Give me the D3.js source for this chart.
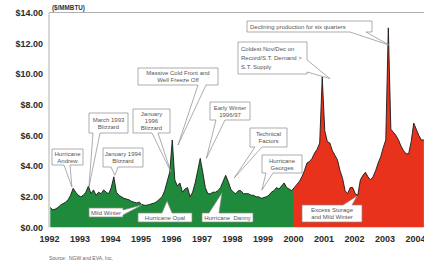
<!DOCTYPE html>
<html><head><meta charset="utf-8">
<script src="https://cdn.jsdelivr.net/npm/d3@7/dist/d3.min.js"></script>
<style>
html,body{margin:0;padding:0;background:#fff;}
svg{display:block;font-family:Arial,"Liberation Sans",Helvetica,sans-serif;}
</style></head>
<body>
<svg id="c" width="424" height="263"></svg>
<script>
// ---- data (monthly price, $/MMBtu) ----
const startYear = 1992;
const prices = [
  // 1992
  1.3, 1.15, 1.2, 1.3, 1.45, 1.55, 1.65, 1.8, 2.1, 2.55, 2.3, 2.1,
  // 1993
  2.0, 2.1, 2.3, 2.7, 2.2, 2.45, 2.1, 2.3, 2.2, 2.45, 2.3, 2.2,
  // 1994
  2.6, 3.3, 2.3, 2.1, 2.0, 1.9, 1.85, 1.8, 1.7, 1.65, 1.6, 1.65,
  // 1995
  1.5, 1.45, 1.45, 1.5, 1.55, 1.6, 1.7, 1.85, 2.0, 2.4, 3.0, 3.6,
  // 1996
  5.7, 3.1, 2.7, 2.9, 2.3, 2.5, 2.6, 2.0, 2.3, 2.9, 3.7, 4.5,
  // 1997
  3.6, 2.6, 2.2, 2.2, 2.3, 2.3, 2.4, 2.6, 3.0, 3.4, 3.0, 2.5,
  // 1998
  2.3, 2.2, 2.4, 2.4, 2.2, 2.2, 2.2, 2.1, 2.1, 2.0, 2.0, 1.9,
  // 1999
  1.95, 2.0, 2.1, 2.3, 2.4, 2.6, 2.5, 2.7, 2.9, 2.6, 2.5, 2.4,
  // 2000
  2.6, 2.8, 3.0, 3.3, 3.7, 4.2, 4.3, 4.5, 4.85, 5.1, 5.5, 9.8,
  // 2001
  6.3, 5.6, 5.5, 5.0, 4.7, 4.4, 3.7, 3.2, 2.4, 2.2, 2.6, 2.6,
  // 2002
  2.2, 2.1, 3.1, 3.4, 3.6, 3.3, 3.1, 3.3, 3.7, 4.2, 4.6, 5.2,
  // 2003
  5.7, 13.0, 6.4, 6.2, 6.0, 5.7, 5.3, 5.0, 4.8, 4.8, 5.6, 6.8,
  // 2004
  6.4, 6.0, 5.7, 5.7
];
const years = [1992,1993,1994,1995,1996,1997,1998,1999,2000,2001,2002,2003,2004];
const yTicks = [0,2,4,6,8,10,12,14];
const splitYear = 2000; // green before, red after

// annotations: text lines, tip given in data units (year, price)
const notes = [
  {lines:["Hurricane","Andrew"], tip:[1992.75,2.64]},
  {lines:["March 1993","Blizzard"], tip:[1993.31,2.64]},
  {lines:["January 1994","Blizzard"], tip:[1994.16,3.4]},
  {lines:["January","1996","Blizzard"], tip:[1996.0,3.6]},
  {lines:["Massive Cold Front and","Well Freeze Off"], tip:[1996.23,5.37]},
  {lines:["Early Winter","1996/97"], tip:[1997.16,4.5]},
  {lines:["Technical","Factors"], tip:[1998.07,3.22]},
  {lines:["Hurricane","Georges"], tip:[1998.98,2.44]},
  {lines:["Coldest Nov/Dec on","Record/S.T. Demand >","S.T. Supply"], tip:[2001.21,9.7]},
  {lines:["Declining production for six quarters"], tip:[2003.15,11.88]},
  {lines:["Mild Winter"], tip:[1995.05,1.47]},
  {lines:["Hurricane Opal"], tip:[1995.87,1.73]},
  {lines:["Hurricane  Danny"], tip:[1997.67,2.25]},
  {lines:["Excess Storage","and Mild Winter"], tip:[2002.1,2.05]}
];
// layout of the callout boxes (pixels): x, y, w, h, tail side, tail base, text align
const boxLayout = [
  [52,149,31,16,"bottom",[64,70],"middle"],
  [89,113,39,20,"bottom",[93,100],"middle"],
  [103,148,40,19,"bottom",[111,118],"middle"],
  [133,109,37,24,"bottom",[152,158],"middle"],
  [138,68,80,17,"bottom",[198,206],"middle"],
  [210,102,40,18,"bottom",[216,225],"middle"],
  [250,128,37,19,"bottom",[255,262],"middle"],
  [262,155,40,18,"bottom",[266,273],"middle"],
  [238,42,69,32,"right",[60,72],"start"],
  [247,21,125,11,"bottom",[350,366],"start"],
  [89,208,34,9,"right",[210,215],"middle"],
  [138,213,54,9,"top",[162,172],"middle"],
  [202,213,51,9,"top",[209,219],"middle"],
  [302,205,60,17,"top",[343,352],"middle"]
];

// ---- chart ----
const svg = d3.select("#c");
const mLeft = 49, mRight = 424, mTop = 12.5, mBottom = 227.5;
const x = d3.scaleLinear().domain([1992, 2004]).range([49, 415]);
const y = d3.scaleLinear().domain([0, 14]).range([mBottom, mTop]);

const data = prices.map((v,i)=>({t: startYear + (i + 0.5)/12, v}));

const defs = svg.append("defs");
defs.append("clipPath").attr("id","plot").append("rect")
  .attr("x",mLeft).attr("y",0).attr("width",mRight-mLeft).attr("height",mBottom);
defs.append("clipPath").attr("id","green").append("rect")
  .attr("x",mLeft).attr("y",0).attr("width",x(splitYear)-mLeft).attr("height",mBottom);
defs.append("clipPath").attr("id","red").append("rect")
  .attr("x",x(splitYear)).attr("y",0).attr("width",mRight-x(splitYear)).attr("height",mBottom);

// frame lines
svg.append("line").attr("x1",mLeft).attr("x2",mRight).attr("y1",mTop).attr("y2",mTop)
  .attr("stroke","#b0b0b0").attr("stroke-width",1);
svg.append("line").attr("x1",mLeft).attr("x2",mLeft).attr("y1",mTop).attr("y2",mBottom)
  .attr("stroke","#b0b0b0").attr("stroke-width",1);

const area = d3.area().x(d=>x(d.t)).y0(mBottom).y1(d=>y(d.v));
const line = d3.line().x(d=>x(d.t)).y(d=>y(d.v));
const g = svg.append("g").attr("clip-path","url(#plot)");
g.append("path").datum(data).attr("d",area).attr("fill","#1f8a3b").attr("clip-path","url(#green)");
g.append("path").datum(data).attr("d",area).attr("fill","#e8321c").attr("clip-path","url(#red)");
g.append("path").datum(data).attr("d",line).attr("fill","none")
  .attr("stroke","#1a1a1a").attr("stroke-width",0.9).attr("stroke-linejoin","round");

// axes
const yAxis = d3.axisLeft(y).tickValues(yTicks).tickSize(0).tickPadding(6)
  .tickFormat(d=>"$"+d3.format(".2f")(d));
const ya = svg.append("g").attr("transform",`translate(${mLeft},0)`).call(yAxis);
ya.select(".domain").remove();
ya.selectAll("text").attr("font-size",9).attr("font-weight","bold").attr("fill","#2a2a2a")
  .attr("font-family","Arial, 'Liberation Sans', sans-serif");

const xAxis = d3.axisBottom(x).tickValues(years).tickSize(0).tickPadding(8).tickFormat(d3.format("d"));
const xa = svg.append("g").attr("transform",`translate(0,${mBottom})`).call(xAxis);
xa.select(".domain").remove();
xa.selectAll("text").attr("font-size",9).attr("font-weight","bold").attr("fill","#2a2a2a")
  .attr("font-family","Arial, 'Liberation Sans', sans-serif");

// unit label
svg.append("text").attr("x",52).attr("y",10).text("($/MMBTU)")
  .attr("font-size",6.3).attr("font-weight","bold").attr("fill","#333");

// source
svg.append("text").attr("x",49).attr("y",260).text("Source:  NGW and EVA, Inc.")
  .attr("font-size",5).attr("fill","#666").style("white-space","pre");

// callouts
function calloutPath(b, tip){
  const [bx,by,w,h,side,base] = b;
  const [tx,ty] = tip;
  const p = [];
  p.push([bx,by]);
  if(side==="top"){ p.push([base[0],by],[tx,ty],[base[1],by]); }
  p.push([bx+w,by]);
  if(side==="right"){ p.push([bx+w,base[0]],[tx,ty],[bx+w,base[1]]); }
  p.push([bx+w,by+h]);
  if(side==="bottom"){ p.push([base[1],by+h],[tx,ty],[base[0],by+h]); }
  p.push([bx,by+h]);
  return "M"+p.map(q=>q.join(",")).join("L")+"Z";
}
const ng = svg.append("g");
notes.forEach((n,i)=>{
  const b = boxLayout[i];
  const tip = [x(n.tip[0]), y(n.tip[1])];
  ng.append("path").attr("d",calloutPath(b,tip)).attr("fill","#fff")
    .attr("stroke","#8a8a8a").attr("stroke-width",0.7).attr("stroke-linejoin","miter");
  const [bx,by,w,h,,,align] = b;
  const fs = 6;
  const lh = n.lines.length===3 ? (h>28?9:7.2) : 7;
  const cy = by + h/2;
  const tx = align==="middle" ? bx + w/2 : bx + 3;
  n.lines.forEach((ln,j)=>{
    ng.append("text").attr("x",tx)
      .attr("y", cy - (n.lines.length-1)*lh/2 + j*lh + fs*0.35)
      .attr("text-anchor",align).attr("font-size",fs).attr("fill","#555")
      .style("white-space","pre")
      .text(ln);
  });
});
</script>
</body></html>
